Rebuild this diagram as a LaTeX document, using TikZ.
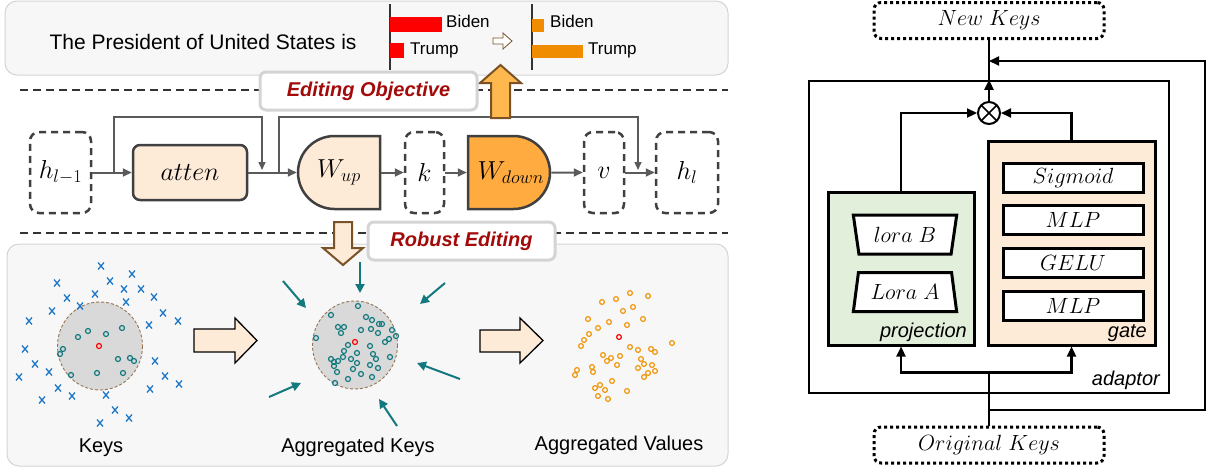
\RequirePackage{fix-cm}
\documentclass[tikz,border=0pt]{standalone}
\usepackage[no-math]{fontspec}
\setmainfont{Liberation Sans}
\usetikzlibrary{arrows.meta,shapes.misc,shapes.geometric}

\definecolor{peach}{HTML}{FDEBD8}
\definecolor{wdownfill}{HTML}{FFAB40}
\definecolor{upfill}{HTML}{FFB84D}
\definecolor{brownline}{HTML}{7A5228}
\definecolor{objred}{HTML}{A30A0A}
\definecolor{keyteal}{HTML}{12797F}
\definecolor{keyblue}{HTML}{1F78C8}
\definecolor{valorange}{HTML}{F0960A}
\definecolor{barorange}{HTML}{F08C00}
\definecolor{panelbg}{HTML}{F7F7F7}
\definecolor{panelline}{HTML}{D4D4D4}
\definecolor{boxline}{HTML}{404040}
\definecolor{flow}{HTML}{5A5A5A}
\definecolor{projgreen}{HTML}{E2EFDA}

\tikzset{>={Triangle[length=9pt,width=8pt]},
  panel/.style={fill=panelbg, draw=panelline, line width=1pt, rounded corners=12pt},
  sep/.style={draw=black!80, line width=1.3pt, dash pattern=on 8pt off 5pt},
  tag/.style={fill=white, draw=panelline, line width=3pt, rounded corners=6pt, inner sep=0pt,
    text=objred, font=\fontsize{20}{24}\selectfont\bfseries\itshape},
  bartxt/.style={anchor=base west, inner sep=0pt, font=\fontsize{17}{20}\selectfont},
  barax/.style={draw=black!80, line width=1.2pt},
  hbox/.style={draw=boxline, line width=2.5pt, dash pattern=on 7pt off 5pt, rounded corners=9pt,
    minimum height=81pt, inner sep=0pt, font=\fontsize{26}{30}\selectfont},
  abox/.style={draw=boxline, fill=peach, line width=2.5pt, rounded corners=7pt, inner sep=0pt,
    minimum width=114pt, minimum height=55pt, font=\fontsize{26}{30}\selectfont},
  wbox/.style={rounded rectangle, draw=boxline, line width=2.5pt, inner sep=0pt,
    minimum width=82pt, minimum height=73pt},
  wtxt/.style={inner sep=0pt, font=\fontsize{26}{30}\selectfont},
  flowarr/.style={draw=flow, line width=2pt, ->},
  skip/.style={draw=flow, line width=1.5pt, -{Triangle[length=8pt,width=7pt]}},
  bigarr/.style={fill=peach, draw=black, line width=1.3pt},
  cluster/.style={fill=black!15, draw=brownline!80, line width=0.9pt, dash pattern=on 3pt off 2pt},
  pull/.style={draw=keyteal, line width=2pt, -{Triangle[length=9pt,width=9pt]}},
  lbl/.style={anchor=base, inner sep=0pt, font=\fontsize{20}{24}\selectfont},
  kbox/.style={draw, line width=3pt, dash pattern=on 3pt off 3pt, rounded corners=7pt,
    minimum width=230pt, minimum height=36pt, inner sep=0pt, font=\fontsize{22}{26}\selectfont},
  part/.style={draw, line width=3pt, inner sep=0pt},
  layer/.style={draw, fill=white, line width=3pt, inner sep=0pt, minimum width=140pt,
    minimum height=29pt, font=\fontsize{22}{26}\selectfont},
  lora/.style={trapezium, draw, fill=white, line width=3pt, inner sep=0pt, trapezium stretches=true,
    trapezium left angle=76, trapezium right angle=76, minimum width=104pt, minimum height=39pt,
    font=\fontsize{22}{26}\selectfont},
  partlbl/.style={anchor=base east, inner sep=0pt, font=\fontsize{20}{24}\selectfont\itshape},
  rline/.style={draw, line width=2.2pt},
  rarr/.style={draw, line width=2.2pt, -{Triangle[length=10pt,width=9pt]}}
}

\begin{document}
\begin{tikzpicture}[x=1pt,y=-1pt]
\useasboundingbox (0,0) rectangle (1209,472);

% panels and separators
\draw[panel] (5,1) rectangle (728,75);
\draw[panel] (7,244) rectangle (728,466);
\draw[sep] (20,90) -- (728,90);
\draw[sep] (20,233) -- (728,233);

% prompt with the two distributions
\node[font=\fontsize{21}{25}\selectfont] (prompt) at (203,42) {The President of United States is};
\draw[barax] (390,4) -- (390,70);
\fill[red] (390,17) rectangle (442,32);
\fill[red] (390,43) rectangle (404,58);
\node[bartxt] (b1) at (446,27.5) {Biden};
\node[bartxt] (t1) at (410,54) {Trump};
\draw[fill=white, draw=brownline, line width=0.8pt] (493,38) -- (503,38) -- (503,33) -- (512,41)
  -- (503,49) -- (503,44) -- (493,44) -- cycle;
\draw[barax] (532,4) -- (532,70);
\fill[barorange] (532,19) rectangle (544,32);
\fill[barorange] (532,45) rectangle (583,58);
\node[bartxt] (b2) at (550,27.5) {Biden};
\node[bartxt] (t2) at (588,54) {Trump};

% layer
\node[hbox, minimum width=61pt] (hprev) at (60.5,172.5) {$h_{l-1}$};
\node[abox] (atten) at (190,172.5) {$atten$};
\node[wbox, rounded rectangle right arc=none, fill=peach] (wup) at (339,172.5) {};
\node[wtxt] (wuptxt) at (wup) {$W_{up}$};
\node[hbox, minimum width=39pt] (k) at (424.5,172.5) {$k$};
\node[wbox, rounded rectangle left arc=none, fill=wdownfill] (wdown) at (509,172.5) {};
\node[wtxt] (wdowntxt) at (511,172.5) {$W_{down}$};
\node[hbox, minimum width=40pt] (v) at (604,172.5) {$v$};
\node[hbox, minimum width=62pt] (hnext) at (687,172.5) {$h_l$};

\draw[flowarr] (hprev) -- (atten);
\draw[flowarr] (atten) -- (wup);
\draw[flowarr] (wup) -- (k);
\draw[flowarr] (k) -- (wdown);
\draw[flowarr] (wdown) -- (v);
\draw[flowarr] (v) -- (hnext);
\coordinate (s1) at (114,172.5);
\coordinate (m1) at (262,170);
\coordinate (s2) at (279,172.5);
\coordinate (m2) at (638,170);
\draw[skip] (s1) -- ++(0,-55.5) -| (m1);
\draw[skip] (s2) -- ++(0,-55.5) -| (m2);

% objectives
\draw[fill=upfill, draw=brownline, line width=2pt] (491,118) -- (491,83) -- (480,83) -- (500.5,65)
  -- (521,83) -- (510,83) -- (510,118) -- cycle;
\node[tag, minimum width=217pt, minimum height=38pt] (edobj) at (368.5,91) {Editing Objective};
\draw[fill=peach, draw=brownline, line width=2pt] (334,222) -- (334,248) -- (323,248) -- (343,265)
  -- (363,248) -- (352,248) -- (352,222) -- cycle;
\node[tag, minimum width=187pt, minimum height=38pt] (robust) at (461.5,241) {Robust Editing};

% keys
\draw[cluster] (100,346) ellipse (42.5 and 44);
\foreach \x/\y in {101/266,132/274,57/283,110/281,124/289,141/289,154/297,67/298,95/294,126/302,
  52/311,80/306,163/313,178/321,29/321,149/325,25/349,35/364,49/372,19/377,155/361,165/376,
  179/384,58/388,72/396,150/389,42/400,106/395,115/410,129/418,100/423}
  \draw[keyblue, line width=1.3pt] (\x-3,\y-3.5) -- (\x+3,\y+3.5) (\x+3,\y-3.5) -- (\x-3,\y+3.5);
\foreach \x/\y in {78/337,88/331,106/334,122/328,63/349,60/354,118/359,130/358,134/361,71/375,
  97/373,123/373}
  \draw[keyteal, line width=1.2pt] (\x,\y) circle (2.5);
\draw[red, line width=1.2pt] (99,346) circle (2.5);

\draw[bigarr] (194,329) -- (235,329) -- (235,318) -- (257,340.5) -- (235,363) -- (235,352)
  -- (194,352) -- cycle;

% aggregated keys
\draw[cluster] (355,345) ellipse (42.5 and 44);
\foreach \x/\y in {358/306,331/315,366/317,338/327,344/327,372/320,379/324,382/324,361/330,
  371/329,341/333,378/333,392/330,396/336,389/339,316/338,385/342,348/345,370/346,344/351,
  357/353,373/354,390/357,331/359,334/362,338/361,343/357,351/359,357/363,376/359,334/366,
  337/372,353/369,378/368,361/374,372/377,348/379,335/383,370/365}
  \draw[keyteal, line width=1.2pt] (\x,\y) circle (2.5);
\draw[red, line width=1.2pt] (355,342) circle (2.5);
\foreach \a/\b/\c/\d in {360/262/360/293,283/281/306/308,445/283/420/304,460/379/417/363,
  397/426/379/399,269/397/301/383}
  \draw[pull] (\a,\b) -- (\c,\d);

\draw[bigarr] (480,330) -- (520,330) -- (520,318) -- (543,340.5) -- (520,363) -- (520,352)
  -- (480,352) -- cycle;

% aggregated values
\foreach \x/\y in {602/302,616/299,630/293,648/296,623/311,633/307,588/319,609/322,627/325,
  643/319,598/328,589/334,584/340,581/346,630/347,638/350,651/349,655/352,672/343,603/355,
  611/358,607/361,620/356,617/365,641/359,644/364,652/365,638/368,655/371,648/373,644/377,
  592/367,593/372,577/370,575/375,612/381,600/385,595/388,605/390,598/396,608/399,627/391}
  \draw[valorange, line width=1.2pt] (\x,\y) circle (2.4);
\draw[red, line width=1.2pt] (619,337) circle (2.4);

\node[lbl] (keys) at (101,452) {Keys};
\node[lbl] (aggk) at (358,452) {Aggregated Keys};
\node[lbl] (aggv) at (619,450) {Aggregated Values};

% adaptor
\node[kbox] (newk) at (989,20.5) {$New\ Keys$};
\node[kbox] (origk) at (989,445) {$Original\ Keys$};
\node[draw, line width=2.5pt, inner sep=0pt, minimum width=360pt, minimum height=312pt] (adaptor) at (989,237) {};
\node[part, fill=projgreen, minimum width=146pt, minimum height=153pt] (proj) at (901,268.5) {};
\node[part, fill=peach, minimum width=167pt, minimum height=204pt] (gate) at (1071.5,243) {};
\node[layer] (sig) at (1073,177.5) {$Sigmoid$};
\node[layer] (mlpa) at (1073,219.5) {$MLP$};
\node[layer] (gelu) at (1073,263) {$GELU$};
\node[layer] (mlpb) at (1073,305.5) {$MLP$};
\node[lora, shape border rotate=180] (lorab) at (905,234.5) {$lora\ B$};
\node[lora] (loraa) at (905,292) {$Lora\ A$};
\node[partlbl] (projlbl) at (967,337) {projection};
\node[partlbl] (gatelbl) at (1147,337) {gate};
\node[partlbl] (adlbl) at (1160,385) {adaptor};
\node[circle, draw, line width=2pt, minimum size=22pt, inner sep=0pt, fill=white,
  path picture={\draw[line width=1.6pt] (path picture bounding box.north west) -- (path picture bounding box.south east)
  (path picture bounding box.north east) -- (path picture bounding box.south west);}] (ot) at (989,113) {};

\draw[rarr] (proj.north) |- (ot.west);
\draw[rarr] (gate.north) |- (ot.east);
\draw[rarr] (ot.north) -- (adaptor.north);
\draw[rline] (adaptor.north) -- (newk.south);
\draw[rline] (origk.north) -- ++(0,-53) coordinate (split);
\draw[rarr] (split) -| (proj.south);
\draw[rarr] (split) -| (gate.south);
\coordinate (res) at (989,410);
\coordinate (resin) at (989,61);
\draw[rarr] (res) -| (1205,61) -- (resin);
\end{tikzpicture}
\end{document}
